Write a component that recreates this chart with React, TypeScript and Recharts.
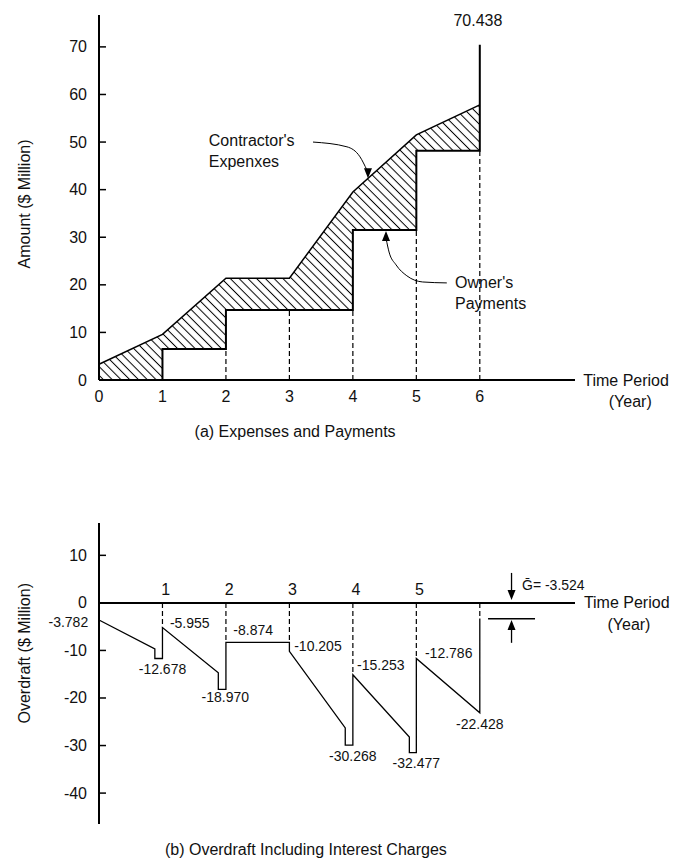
import {
  ComposedChart,
  Area,
  Line,
  Scatter,
  XAxis,
  YAxis,
  ReferenceLine,
  ReferenceDot,
} from 'recharts'

// (a) expenses and payments, cumulative $ million
const years = [0, 1, 2, 3, 4, 5, 6]
const expenses = [3.3, 9.6, 21.4, 21.4, 39.5, 51.5, 57.8]
const payments = [0, 6.5, 14.7, 14.7, 31.5, 48.2] // level held from year i to i+1
const finalPayment = 70.438
const topTicksY = [0, 10, 20, 30, 40, 50, 60, 70]

// (b) overdraft incl. interest, $ million
const overdraftX = [0, 0.88, 0.88, 1, 1, 1.88, 1.88, 2, 2, 3, 3, 3.88, 3.88, 4, 4, 4.89, 4.89, 5, 5, 6, 6]
const overdraftY = [-3.6, -9.7, -11.7, -11.7, -5.2, -14.7, -18.2, -18.2, -8.3, -8.3, -10.2, -26.3, -29.9, -29.9, -15.1, -28.2, -31.5, -31.5, -11.7, -23.1, -3.3]
const overdraftTops = [-5.2, -8.3, -8.3, -15.1, -11.7, -3.3] // right after payment, years 1..6
const overdraftLabels = ['-3.782', '-12.678', '-5.955', '-18.970', '-8.874', '-10.205', '-30.268', '-15.253', '-32.477', '-12.786', '-22.428']
const gBar = '-3.524'
const bottomTicksX = [1, 2, 3, 4, 5]
const bottomTicksY = [10, 0, -10, -20, -30, -40]

const INK = '#111'
const FONT = '"Liberation Sans", Arial, sans-serif'

const bandData = payments.flatMap((p, i) => [
  { x: years[i], band: [p, expenses[i]] },
  { x: years[i + 1], band: [p, expenses[i + 1]] },
])
const expenseLine = years.map((x, i) => ({ x, y: expenses[i] }))
const paymentSteps: { x: number; y: number }[] = [{ x: 1, y: 0 }]
for (let i = 1; i < payments.length; i++) {
  paymentSteps.push({ x: years[i], y: payments[i] }, { x: years[i + 1], y: payments[i] })
}
paymentSteps.push({ x: 6, y: finalPayment })

const overdraftData = overdraftX.map((x, i) => ({ x, y: overdraftY[i] }))

// label placement, data units
const labelPos = [
  [-0.17, -4.0, 'end'],
  [1.0, -13.9],
  [1.43, -4.3],
  [1.99, -19.7],
  [2.43, -5.7],
  [3.45, -9.05],
  [4.0, -32.2],
  [4.44, -13.05],
  [5.0, -33.7],
  [5.51, -10.6],
  [6.0, -25.4],
] as const

type Note = { x: number; y: number; text: string; anchor?: 'start' | 'middle' | 'end'; size?: number; rotate?: boolean }

const topNotes: Note[] = [
  { x: 5.97, y: 75.6, text: String(finalPayment) },
  { x: 1.73, y: 50.4, text: "Contractor's", anchor: 'start' },
  { x: 1.73, y: 46.0, text: 'Expenxes', anchor: 'start' },
  { x: 5.61, y: 20.4, text: "Owner's", anchor: 'start' },
  { x: 5.61, y: 16.0, text: 'Payments', anchor: 'start' },
  { x: 7.63, y: 0, text: 'Time Period', anchor: 'start' },
  { x: 8.37, y: -4.6, text: '(Year)' },
  { x: 3.09, y: -10.9, text: '(a) Expenses and Payments' },
  { x: -1.166, y: 37.0, text: 'Amount ($ Million)', rotate: true },
]

const bottomNotes: Note[] = [
  ...bottomTicksX.map((t) => ({ x: t + 0.05, y: 2.75, text: String(t) })),
  ...overdraftLabels.map((text, i) => ({
    x: labelPos[i][0],
    y: labelPos[i][1],
    text,
    size: 14,
    anchor: (labelPos[i][2] ?? 'middle') as Note['anchor'],
  })),
  { x: 6.665, y: 3.8, text: '\u1E20= ' + gBar, size: 14, anchor: 'start' },
  { x: 7.64, y: 0, text: 'Time Period', anchor: 'start' },
  { x: 8.35, y: -4.6, text: '(Year)' },
  { x: 3.26, y: -51.9, text: '(b) Overdraft Including Interest Charges' },
  { x: -1.166, y: -10.6, text: 'Overdraft ($ Million)', rotate: true },
]

const renderNotes = (notes: Note[], prefix: string) =>
  notes.map((n, i) => (
    <ReferenceDot
      key={prefix + i}
      x={n.x}
      y={n.y}
      r={0}
      fill="none"
      stroke="none"
      ifOverflow="visible"
      label={(p: any) => {
        const cx = p.viewBox.x
        const cy = p.viewBox.y
        return (
          <text
            x={cx}
            y={cy}
            textAnchor={n.anchor ?? 'middle'}
            dominantBaseline="central"
            fontSize={n.size ?? 16}
            fill={INK}
            fontFamily={FONT}
            transform={n.rotate ? `rotate(-90 ${cx} ${cy})` : undefined}
          >
            {n.text}
          </text>
        )
      }}
    />
  ))

// small inward tick marks on the y axis
const renderTickMarks = (ticks: number[], prefix: string) =>
  ticks
    .filter((v) => v !== 0)
    .map((v) => (
      <ReferenceLine
        key={prefix + v}
        segment={[
          { x: 0, y: v },
          { x: 0.11, y: v },
        ]}
        stroke="#000"
        strokeWidth={1.5}
      />
    ))

const yTick = (p: any) => (
  <text x={p.x} y={p.y} textAnchor="end" dominantBaseline="central" fontSize={16} fill={INK} fontFamily={FONT}>
    {p.payload.value}
  </text>
)

const noDot = () => <g />
const headDown = (p: any) => (
  <polygon points={`${p.cx},${p.cy} ${p.cx - 4},${p.cy - 10} ${p.cx + 4},${p.cy - 10}`} fill="#000" />
)
const headUp = (p: any) => (
  <polygon points={`${p.cx},${p.cy} ${p.cx - 4},${p.cy + 10} ${p.cx + 4},${p.cy + 10}`} fill="#000" />
)

const axisLine = { stroke: '#000', strokeWidth: 2 }

export default function App() {
  return (
    <div
      style={{
        position: 'absolute',
        left: 0,
        top: 0,
        width: 674,
        height: 863,
        background: '#fff',
        overflow: 'hidden',
        fontFamily: FONT,
      }}
    >
      <div style={{ position: 'absolute', left: 0, top: 0 }}>
        <ComposedChart width={674} height={440} data={bandData} margin={{ top: 15, right: 99, bottom: 30, left: 0 }}>
          <defs>
            <pattern id="hatch" patternUnits="userSpaceOnUse" width={6.2} height={6.2} patternTransform="rotate(-45)">
              <line x1={3.1} y1={-1} x2={3.1} y2={8} stroke="#000" strokeWidth={1} />
            </pattern>
          </defs>
          <XAxis
            dataKey="x"
            type="number"
            domain={[0, 7.5]}
            ticks={years}
            interval={0}
            height={30}
            tickLine={false}
            tickSize={6}
            tickMargin={5}
            axisLine={axisLine}
            tick={{ fill: INK, fontSize: 16, fontFamily: FONT }}
          />
          <YAxis
            type="number"
            domain={[0, 76.7]}
            ticks={topTicksY}
            interval={0}
            width={99}
            tickLine={false}
            tickSize={0}
            tickMargin={12}
            axisLine={axisLine}
            tick={yTick}
          />
          <Area dataKey="band" type="linear" stroke="none" fill="url(#hatch)" fillOpacity={1} isAnimationActive={false} />
          {renderTickMarks(topTicksY, 'tt')}
          {years.slice(2).map((x) => (
            <ReferenceLine
              key={'d' + x}
              segment={[
                { x, y: 0 },
                { x, y: payments[x - 1] },
              ]}
              stroke="#000"
              strokeWidth={1.2}
              strokeDasharray="5 3"
            />
          ))}
          <Scatter data={expenseLine} dataKey="y" fill="#000" line={{ stroke: '#000', strokeWidth: 1.5 }} shape={noDot} isAnimationActive={false} />
          <Scatter data={paymentSteps} dataKey="y" fill="#000" line={{ stroke: '#000', strokeWidth: 2 }} shape={noDot} isAnimationActive={false} />
          <Scatter
            data={[
              { x: 3.372, y: 50.0 },
              { x: 3.907, y: 49.0 },
              { x: 4.112, y: 46.9 },
              { x: 4.222, y: 44.1 },
            ]}
            dataKey="y"
            fill="#000"
            line={{ stroke: '#000', strokeWidth: 1 }}
            lineJointType="monotoneX"
            shape={noDot}
            isAnimationActive={false}
          />
          <Scatter data={[{ x: 4.238, y: 42.4 }]} dataKey="y" fill="#000" shape={headDown} isAnimationActive={false} />
          <Scatter
            data={[
              { x: 4.525, y: 29.6 },
              { x: 4.57, y: 26.9 },
              { x: 4.68, y: 24.2 },
              { x: 4.85, y: 21.9 },
              { x: 5.1, y: 20.6 },
              { x: 5.48, y: 20.4 },
            ]}
            dataKey="y"
            fill="#000"
            line={{ stroke: '#000', strokeWidth: 1 }}
            lineJointType="monotoneX"
            shape={noDot}
            isAnimationActive={false}
          />
          <Scatter data={[{ x: 4.522, y: 31.3 }]} dataKey="y" fill="#000" shape={headUp} isAnimationActive={false} />
          {renderNotes(topNotes, 't')}
        </ComposedChart>
      </div>
      <div style={{ position: 'absolute', left: 0, top: 440 }}>
        <ComposedChart width={674} height={423} data={overdraftData} margin={{ top: 83, right: 99, bottom: 39, left: 0 }}>
          <XAxis dataKey="x" type="number" domain={[0, 7.5]} hide />
          <YAxis
            type="number"
            domain={[-46.5, 16.8]}
            ticks={bottomTicksY}
            interval={0}
            width={99}
            tickLine={false}
            tickSize={0}
            tickMargin={12}
            axisLine={axisLine}
            tick={yTick}
          />
          <ReferenceLine y={0} stroke="#000" strokeWidth={2} />
          {renderTickMarks(bottomTicksY, 'bt')}
          {overdraftTops.map((v, i) => (
            <ReferenceLine
              key={'o' + i}
              segment={[
                { x: i + 1, y: 0 },
                { x: i + 1, y: v },
              ]}
              stroke="#000"
              strokeWidth={1.2}
              strokeDasharray="5 3"
            />
          ))}
          <Line dataKey="y" type="linear" stroke="#000" strokeWidth={1.3} dot={false} isAnimationActive={false} />
          <ReferenceLine
            segment={[
              { x: 6.5, y: 6.3 },
              { x: 6.5, y: 1.5 },
            ]}
            stroke="#000"
            strokeWidth={1.3}
          />
          <ReferenceLine
            segment={[
              { x: 6.5, y: -4.5 },
              { x: 6.5, y: -8.4 },
            ]}
            stroke="#000"
            strokeWidth={1.3}
          />
          <ReferenceLine
            segment={[
              { x: 6.13, y: -3.36 },
              { x: 6.87, y: -3.36 },
            ]}
            stroke="#000"
            strokeWidth={1.5}
          />
          <Scatter data={[{ x: 6.5, y: 0.6 }]} dataKey="y" fill="#000" shape={headDown} isAnimationActive={false} />
          <Scatter data={[{ x: 6.5, y: -3.6 }]} dataKey="y" fill="#000" shape={headUp} isAnimationActive={false} />
          {renderNotes(bottomNotes, 'b')}
        </ComposedChart>
      </div>
    </div>
  )
}
